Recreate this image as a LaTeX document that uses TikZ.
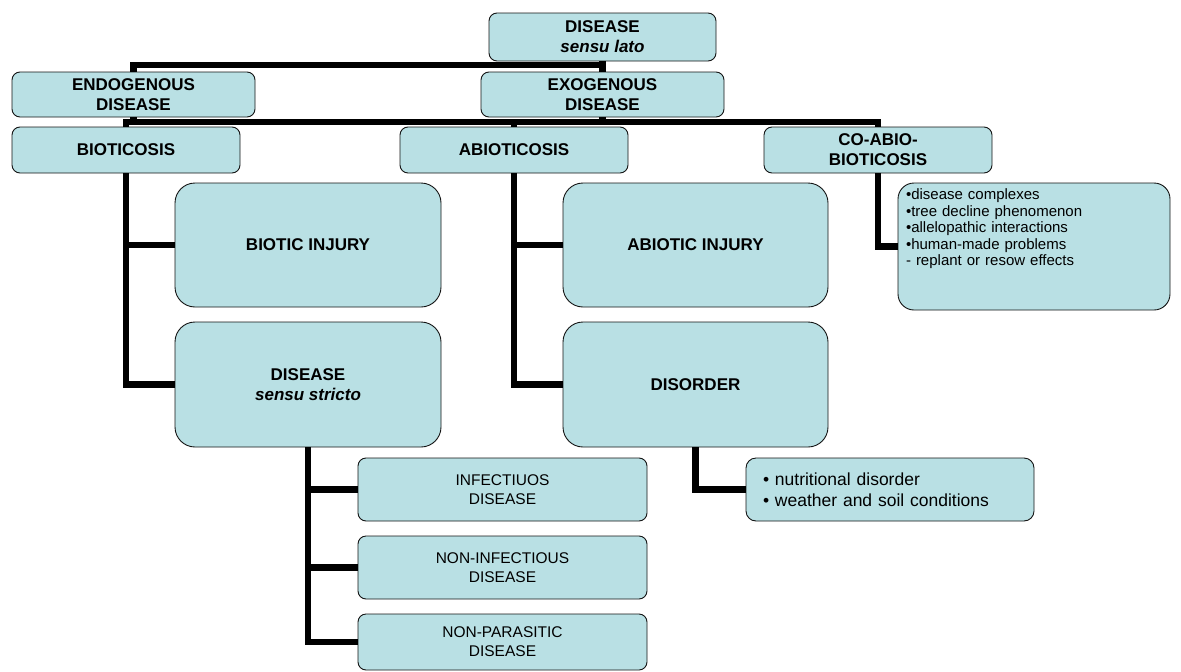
\documentclass[tikz,border=0pt]{standalone}
\usepackage{fontspec}
\setmainfont{Liberation Sans}
\definecolor{boxfill}{RGB}{185,224,228}
\definecolor{boxline}{RGB}{20,20,20}
\begin{document}
\begin{tikzpicture}[x=1pt,y=-1pt,
  box/.style={draw=boxline, line width=0.9pt, fill=boxfill, rounded corners=8pt,
    inner sep=0pt, align=center},
  big/.style={box, rounded corners=20pt},
  btxt/.style={font=\bfseries\fontsize{17}{20}\selectfont},
  rtxt/.style={font=\fontsize{15.5}{19}\selectfont},
  conn/.style={line width=6.5pt, draw=black, line join=miter}]
\useasboundingbox (0,0) rectangle (1181,672);

\node[box, btxt, minimum width=227pt, minimum height=48pt] (top) at (602.5,37) {DISEASE\\\textit{sensu lato}};
\node[box, btxt, minimum width=243pt, minimum height=45pt] (endo) at (133.5,94.5) {ENDOGENOUS\\DISEASE};
\node[box, btxt, minimum width=243pt, minimum height=45pt] (exo) at (602.5,94.5) {EXOGENOUS\\DISEASE};
\node[box, btxt, minimum width=228pt, minimum height=46pt] (bio) at (126,150) {BIOTICOSIS};
\node[box, btxt, minimum width=228pt, minimum height=46pt] (abio) at (514,150) {ABIOTICOSIS};
\node[box, btxt, minimum width=228pt, minimum height=46pt] (coab) at (878,150) {CO-ABIO-\\BIOTICOSIS};

\node[big, btxt, minimum width=266pt, minimum height=124pt] (bioinj) at (308,245) {BIOTIC INJURY};
\node[big, btxt, minimum width=266pt, minimum height=125pt] (dss) at (308,384.5) {DISEASE\\\textit{sensu stricto}};
\node[big, btxt, minimum width=265pt, minimum height=124pt] (abioinj) at (695.5,245) {ABIOTIC INJURY};
\node[big, btxt, minimum width=265pt, minimum height=125pt] (disorder) at (695.5,384.5) {DISORDER};

\node[box, rounded corners=16pt, inner xsep=8pt, text width=256pt, align=left,
  minimum height=127pt, font=\fontsize{15}{16.6}\selectfont] (list) at (1034,246.5)
  {•disease complexes\\•tree decline phenomenon\\•allelopathic interactions\\•human-made problems\\- replant or resow effects\par\rule[-22pt]{0pt}{10pt}};

\node[box, rounded corners=10pt, inner xsep=17pt, text width=254pt, align=left,
  minimum height=63pt, font=\fontsize{17.5}{20.5}\selectfont] (nutr) at (890,489.5)
  {• nutritional disorder\\• weather and soil conditions};

\node[box, rtxt, minimum width=289pt, minimum height=63pt] (inf) at (502.5,489.5) {INFECTIUOS\\DISEASE};
\node[box, rtxt, minimum width=289pt, minimum height=63pt] (noninf) at (502.5,567.5) {NON-INFECTIOUS\\DISEASE};
\node[box, rtxt, minimum width=289pt, minimum height=56pt] (nonpar) at (502.5,642) {NON-PARASITIC\\DISEASE};

\coordinate (j1) at (0,65);
\coordinate (j2) at (0,122);
\draw[conn] (endo.north) -- (endo.north |- j1) -- (top.south |- j1);
\draw[conn] (top.south) -- (exo.north);
\draw[conn] (bio.north) -- (bio.north |- j2) -- (coab.north |- j2) -- (coab.north);
\draw[conn] (endo.south) -- (endo.south |- j2);
\draw[conn] (exo.south) -- (exo.south |- j2);
\draw[conn] (abio.north) -- (abio.north |- j2);

\draw[conn] (bio.south) |- (dss.west);
\draw[conn] (bio.south |- bioinj.west) -- (bioinj.west);
\draw[conn] (abio.south) |- (disorder.west);
\draw[conn] (abio.south |- abioinj.west) -- (abioinj.west);
\draw[conn] (coab.south) |- (list.west);
\draw[conn] (disorder.south) |- (nutr.west);
\draw[conn] (dss.south) |- (nonpar.west);
\draw[conn] (dss.south |- inf.west) -- (inf.west);
\draw[conn] (dss.south |- noninf.west) -- (noninf.west);
\end{tikzpicture}
\end{document}
